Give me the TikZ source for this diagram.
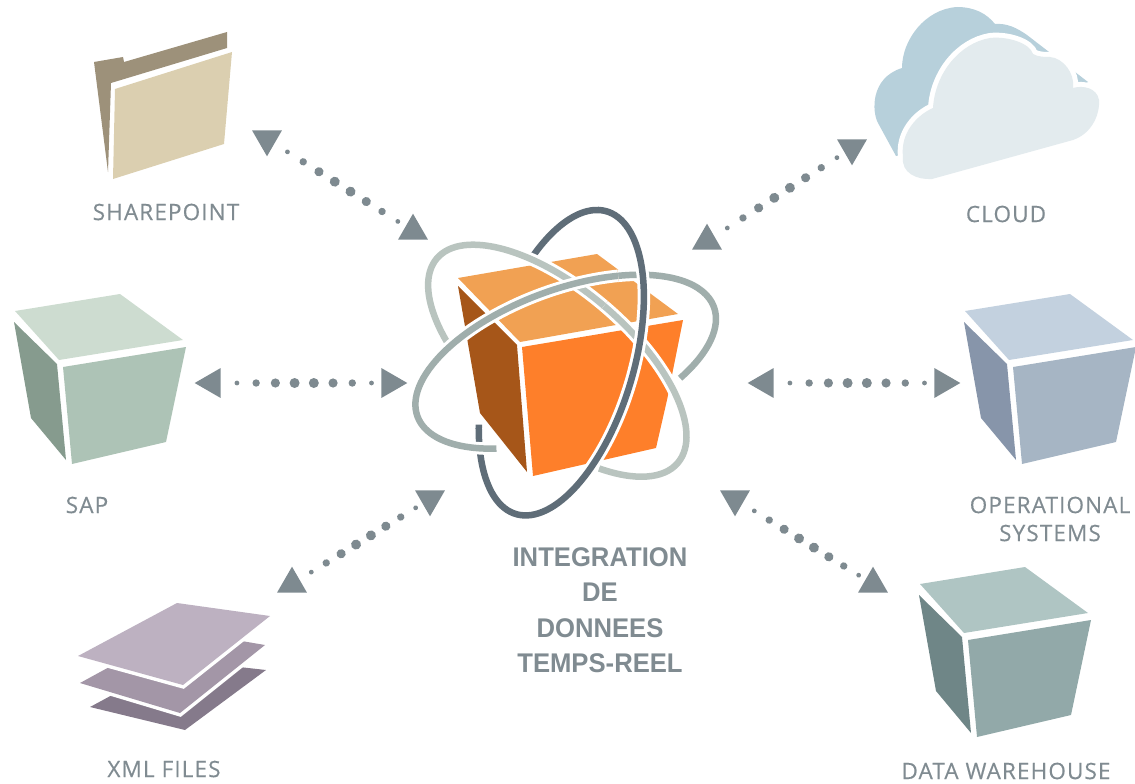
\documentclass[tikz,border=0pt]{standalone}
\usepackage{fontspec}
\usetikzlibrary{calc,shapes.geometric,decorations.markings}
\newfontfamily\labelfont[LetterSpace=5,FakeBold=0.4]{Open Sans}
\newfontfamily\titlefont[FakeStretch=0.95]{Liberation Sans}

\definecolor{linkgray}{HTML}{7E8A90}
\definecolor{labelgray}{HTML}{808B91}
\definecolor{boxtop}{HTML}{F1A153}
\definecolor{boxleft}{HTML}{A65619}
\definecolor{boxfront}{HTML}{FE7F2A}
\definecolor{orbitdark}{HTML}{5F6D78}
\definecolor{orbitmid}{HTML}{A0AEAC}
\definecolor{orbitlight}{HTML}{B9C4BF}
\definecolor{folderback}{HTML}{9D917A}
\definecolor{folderfront}{HTML}{DBCFB0}
\definecolor{cloudback}{HTML}{B7D0DB}
\definecolor{cloudfront}{HTML}{E3EBEE}
\definecolor{sheetlow}{HTML}{857A8B}
\definecolor{sheetmid}{HTML}{A396A7}
\definecolor{sheettop}{HTML}{BDB1C1}
\definecolor{saptop}{HTML}{CDDCD0}
\definecolor{sapleft}{HTML}{869B8E}
\definecolor{sapfront}{HTML}{ADC3B6}
\definecolor{optop}{HTML}{C3D1DF}
\definecolor{opleft}{HTML}{8795AA}
\definecolor{opfront}{HTML}{A6B5C4}
\definecolor{dwtop}{HTML}{AFC5C3}
\definecolor{dwleft}{HTML}{6F8687}
\definecolor{dwfront}{HTML}{92A9A9}

% one crate: position, then top, left and front colour
\newcommand{\crateicon}[5]{
  \begin{scope}[shift={(#1,#2)}]
    \fill[#3] (15,311) -- (120,294) -- (183,340) -- (59,360) -- cycle;
    \fill[#4] (14,322) -- (57,364) -- (66,460) -- (31,418) -- cycle;
    \fill[#5] (63,367) -- (186,347) -- (166,442) -- (72,464) -- cycle;
  \end{scope}
}
% one piece of an orbit: centre, tilt, first and last angle, colour
\newcommand{\orbitpiece}[6]{
  \begin{scope}[shift={(#1,#2)},rotate=#3]
    \draw[orbit,draw=#6] (#4:158pt and 72pt)
      arc[start angle=#4,end angle=#5,x radius=158pt,y radius=72pt];
  \end{scope}
}

\begin{document}
\begin{tikzpicture}[
        x = 1pt,
        y = -1pt,
        node distance = 178pt, % between the two heads of a link
        semithick
      ]

      \tikzstyle{head}=[regular polygon,regular polygon sides=3,minimum size=34.6pt,
        inner sep=0pt,outer sep=0pt,fill=linkgray]
      \tikzstyle{headup}=[head]
      \tikzstyle{headdown}=[head,regular polygon rotate=180]
      \tikzstyle{headleft}=[head,regular polygon rotate=90]
      \tikzstyle{headright}=[head,regular polygon rotate=-90]
      \tikzstyle{dotlink}=[postaction={decorate,decoration={markings,
        mark=at position 0.140 with {\fill[linkgray] (0,0) circle (2.4pt);},
        mark=at position 0.248 with {\fill[linkgray] (0,0) circle (3.7pt);},
        mark=at position 0.356 with {\fill[linkgray] (0,0) circle (4.6pt);},
        mark=at position 0.464 with {\fill[linkgray] (0,0) circle (5pt);},
        mark=at position 0.572 with {\fill[linkgray] (0,0) circle (5pt);},
        mark=at position 0.680 with {\fill[linkgray] (0,0) circle (4.6pt);},
        mark=at position 0.788 with {\fill[linkgray] (0,0) circle (3.7pt);},
        mark=at position 0.896 with {\fill[linkgray] (0,0) circle (2.4pt);}}}]
      \tikzstyle{icontext}=[text=labelgray,font=\labelfont\fontsize{22.5}{28}\selectfont,align=center]
      \tikzstyle{orbit}=[line width=6.5pt,preaction={draw=white,line width=12.5pt}]
      \tikzstyle{halo}=[preaction={draw=white,line width=10pt,line join=round}]

      \useasboundingbox (0,0) rectangle (1135,784);

      % folder
      \fill[folderback] (94,62) -- (123,57) -- (124,62) -- (227,32)
        -- (227,48) -- (111,83) -- (108,172) -- cycle;
      \fill[folderfront] (115,89) -- (232,52) -- (224,144) -- (113,179) -- cycle;

      % cloud
      \fill[cloudback] (896,156) -- (878,123)
        .. controls (872,112) and (870,78) .. (902,68)
        .. controls (902,40) and (925,9) .. (957,7)
        .. controls (975,7) and (987,14) .. (995,24)
        .. controls (1007,23) and (1017,28) .. (1027,35)
        -- (1088,82) -- (1000,130) -- cycle;
      \fill[cloudfront,halo] (903,157)
        .. controls (901,173) and (917,180) .. (932,179) -- (1073,140)
        .. controls (1093,133) and (1100,113) .. (1099,100)
        .. controls (1097,88) and (1083,85) .. (1073,88)
        .. controls (1075,73) and (1063,58) .. (1050,57)
        .. controls (1045,57) and (1038,57) .. (1033,54)
        .. controls (1030,43) and (1007,36) .. (990,38)
        .. controls (960,43) and (935,73) .. (933,108)
        .. controls (917,115) and (900,133) .. (903,157) -- cycle;

      % sheets
      \fill[sheetlow] (90,707) -- (177,660) -- (266,670) -- (185,730) -- cycle;
      \fill[sheetmid,preaction={draw=white,line width=7pt}]
        (80,683) -- (177,630) -- (265,645) -- (180,713) -- cycle;
      \fill[sheettop,preaction={draw=white,line width=7pt}]
        (177,603) -- (270,616) -- (183,685) -- (78,656) -- cycle;

      % crates
      \crateicon{0}{0}{saptop}{sapleft}{sapfront}
      \crateicon{950}{0}{optop}{opleft}{opfront}
      \crateicon{905}{273}{dwtop}{dwleft}{dwfront}

      % middle box and its orbits
      \fill[boxtop] (458,278) -- (597,254) -- (678,314) -- (520,342) -- cycle;
      \fill[boxleft] (458,286) -- (517,345) -- (527,472) -- (480,413) -- cycle;
      \fill[boxfront] (522,347) -- (683,320) -- (667,400) -- (656,448) -- (533,476) -- cycle;

      \orbitpiece{565.7}{361.7}{20.3}{60}{-50}{orbitmid}
      \orbitpiece{557.3}{360.7}{-40.3}{90}{-50}{orbitlight}
      \orbitpiece{561.3}{362.7}{73.3}{57}{-238.3}{orbitdark}
      \orbitpiece{557.3}{360.7}{-40.3}{236}{90}{orbitlight}
      \orbitpiece{565.7}{361.7}{20.3}{233}{60}{orbitmid}

      % heads
      \node[headdown] (sharea) at (267,139) {};
      \node[headup] (shareb) at (413,231) {};
      \node[headleft] (sapa) at (212,383) {};
      \node[headright] (sapb) [right of=sapa] {};
      \node[headup] (xmla) at (292,584) {};
      \node[headdown] (xmlb) at (430,499) {};
      \node[headup] (clouda) at (707,241) {};
      \node[headdown] (cloudb) at (852,148) {};
      \node[headleft] (opa) at (765,383) {};
      \node[headright] (opb) [right of=opa] {};
      \node[headdown] (dwa) at (735,499) {};
      \node[headup] (dwb) at (873,584) {};

      % links
      \path[dotlink] (sharea.center) -- (shareb.center);
      \path[dotlink] (sapa.center) -- (sapb.center);
      \path[dotlink] (xmla.center) -- (xmlb.center);
      \path[dotlink] (clouda.center) -- (cloudb.center);
      \path[dotlink] (opa.center) -- (opb.center);
      \path[dotlink] (dwa.center) -- (dwb.center);

      % labels
      \node[icontext] (sharetext) at (166,212) {SHAREPOINT};
      \node[icontext] (cloudtext) at (1006,214) {CLOUD};
      \node[icontext] (saptext) at (87,505) {SAP};
      \node[icontext] (optext) at (1050,519) {OPERATIONAL\\SYSTEMS};
      \node[icontext] (xmltext) at (164,769) {XML FILES};
      \node[icontext] (dwtext) at (1006,771) {DATA WAREHOUSE};
      \node[text=labelgray,align=center,font=\titlefont\bfseries\fontsize{27}{35.5}\selectfont]
        (maintext) at (600,610) {INTEGRATION\\DE\\DONNEES\\TEMPS-REEL};

    \end{tikzpicture}
\end{document}
